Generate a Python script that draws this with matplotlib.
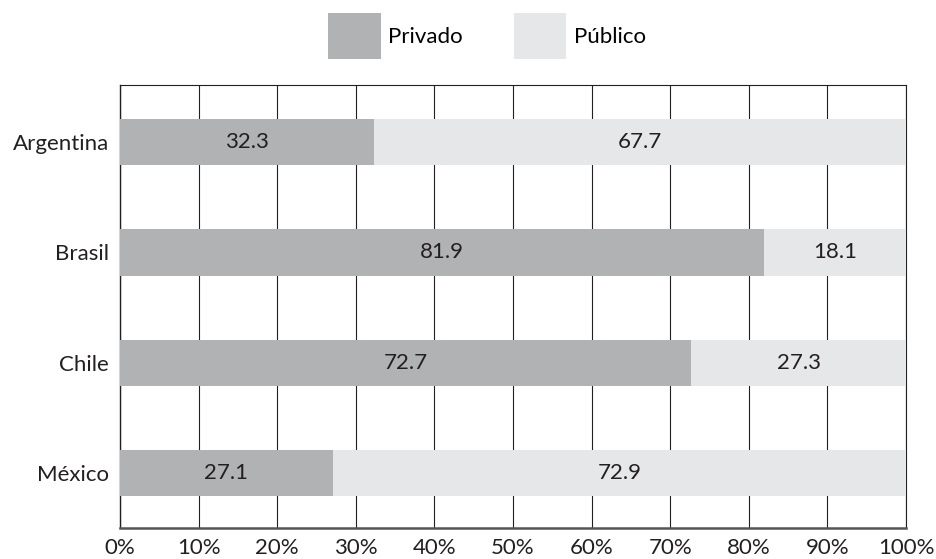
import matplotlib
matplotlib.use("Agg")
import matplotlib.pyplot as plt
import numpy as np

categories = ["Argentina", "Brasil", "Chile", "México"]
privado = [32.3, 81.9, 72.7, 27.1]
publico = [67.7, 18.1, 27.3, 72.9]
xticks = [0, 10, 20, 30, 40, 50, 60, 70, 80, 90, 100]
xticklabels = [f"{t}%" for t in xticks]

plt.rcParams['font.family'] = ['Lato', 'DejaVu Sans']
c_priv = "#b1b2b4"
c_pub = "#e6e7e8"
fs = 16

fig = plt.figure(figsize=(9.37, 5.59), dpi=100)
ax = fig.add_axes([0.128, 0.0555, 0.839, 0.7925])

y = np.arange(len(categories))
h = 0.42
b1 = ax.barh(y, privado, height=h, color=c_priv, label="Privado", zorder=3)
b2 = ax.barh(y, publico, left=privado, height=h, color=c_pub, label="Público", zorder=3)

for i in range(len(categories)):
    ax.text(privado[i] / 2, y[i], f"{privado[i]:.1f}", ha="center", va="center",
            fontsize=fs, color="#231f20", zorder=4)
    ax.text(privado[i] + publico[i] / 2, y[i], f"{publico[i]:.1f}", ha="center", va="center",
            fontsize=fs, color="#231f20", zorder=4)

ax.set_xlim(0, 100)
ax.set_ylim(len(categories) - 0.5, -0.52)
ax.set_yticks(y)
ax.set_yticklabels(categories, fontsize=fs, color="#231f20")
ax.set_xticks(xticks)
ax.set_xticklabels(xticklabels, fontsize=fs, color="#231f20")
ax.tick_params(axis="y", length=0, pad=8)
ax.tick_params(axis="x", length=0, pad=7)
ax.xaxis.grid(True, color="#231f20", linewidth=0.8, zorder=1)
ax.set_axisbelow(True)
for s in ["top", "right"]:
    ax.spines[s].set_color("#231f20")
    ax.spines[s].set_linewidth(0.8)
ax.spines["left"].set_color("#231f20")
ax.spines["left"].set_linewidth(1.0)
ax.spines["bottom"].set_color("#555555")
ax.spines["bottom"].set_linewidth(1.8)

fig.legend(handles=[b1, b2], labels=["Privado", "Público"], loc="center",
           bbox_to_anchor=(0.52, 0.935), ncol=2, frameon=False, fontsize=fs,
           handlelength=2.35, handleheight=2.8, handletextpad=0.35, columnspacing=2.3)

fig.savefig("out.png", dpi=100)
